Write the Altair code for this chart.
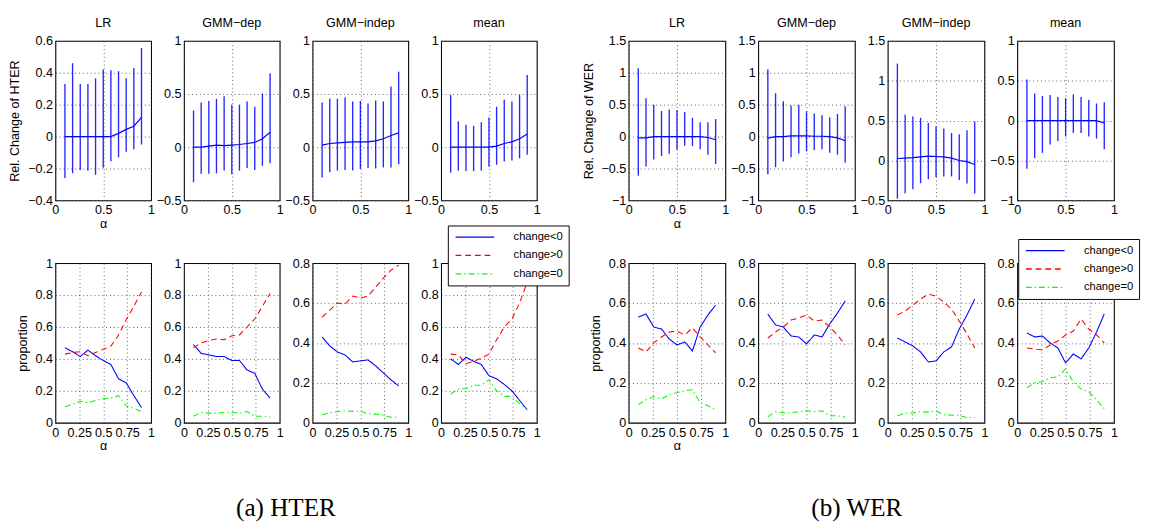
import altair as alt
import pandas as pd

ALPHA = [0.1, 0.18, 0.26, 0.34, 0.42, 0.5, 0.58, 0.66, 0.74, 0.82, 0.9]
METHODS = ["LR", "GMM−dep", "GMM−indep", "mean"]
SERIES = ["change<0", "change>0", "change=0"]
SERIES_COLORS = ["#0000ff", "#ff0000", "#00ff00"]
SERIES_DASH = [[1, 0], [6, 4], [6, 3, 1.5, 3]]

# ---- HTER, relative change (mean, lower, upper) ----
HTER_LR_MEAN = [0, 0, 0, 0, 0, 0, 0, 0.02, 0.045, 0.065, 0.12]
HTER_LR_LO = [-0.26, -0.23, -0.21, -0.215, -0.24, -0.195, -0.155, -0.13, -0.095, -0.08, -0.05]
HTER_LR_HI = [0.33, 0.46, 0.33, 0.33, 0.365, 0.42, 0.415, 0.41, 0.365, 0.43, 0.555]
HTER_GD_MEAN = [0, 0, 0.01, 0.02, 0.015, 0.02, 0.025, 0.035, 0.045, 0.08, 0.14]
HTER_GD_LO = [-0.33, -0.25, -0.25, -0.245, -0.22, -0.255, -0.22, -0.195, -0.215, -0.175, -0.15]
HTER_GD_HI = [0.345, 0.42, 0.435, 0.455, 0.48, 0.40, 0.40, 0.43, 0.38, 0.505, 0.695]
HTER_GI_MEAN = [0.02, 0.035, 0.04, 0.045, 0.05, 0.05, 0.05, 0.06, 0.08, 0.11, 0.135]
HTER_GI_LO = [-0.285, -0.235, -0.22, -0.215, -0.22, -0.205, -0.195, -0.2, -0.19, -0.19, -0.16]
HTER_GI_HI = [0.42, 0.455, 0.455, 0.47, 0.43, 0.435, 0.41, 0.44, 0.43, 0.57, 0.71]
HTER_MN_MEAN = [0, 0, 0, 0, 0, 0, 0.01, 0.035, 0.05, 0.08, 0.125]
HTER_MN_LO = [-0.24, -0.22, -0.225, -0.225, -0.22, -0.185, -0.165, -0.135, -0.125, -0.105, -0.07]
HTER_MN_HI = [0.49, 0.245, 0.21, 0.2, 0.235, 0.28, 0.38, 0.445, 0.43, 0.49, 0.68]

# ---- WER, relative change ----
WER_LR_MEAN = [-0.02, -0.02, 0, 0, 0, 0, 0, 0, 0, -0.015, -0.05]
WER_LR_LO = [-0.615, -0.47, -0.36, -0.305, -0.27, -0.205, -0.145, -0.15, -0.2, -0.285, -0.43]
WER_LR_HI = [1.07, 0.6, 0.5, 0.4, 0.425, 0.415, 0.385, 0.295, 0.225, 0.225, 0.275]
WER_GD_MEAN = [-0.025, 0, 0, 0.01, 0.01, 0.01, 0.005, 0.005, 0, -0.02, -0.065]
WER_GD_LO = [-0.59, -0.48, -0.39, -0.325, -0.265, -0.23, -0.21, -0.2, -0.255, -0.285, -0.41]
WER_GD_HI = [1.055, 0.68, 0.555, 0.485, 0.5, 0.395, 0.36, 0.335, 0.3, 0.355, 0.475]
WER_GI_MEAN = [0.025, 0.03, 0.035, 0.045, 0.055, 0.05, 0.045, 0.03, 0, -0.015, -0.05]
WER_GI_LO = [-0.48, -0.41, -0.36, -0.285, -0.235, -0.21, -0.2, -0.2, -0.245, -0.29, -0.415]
WER_GI_HI = [1.215, 0.575, 0.55, 0.535, 0.47, 0.43, 0.4, 0.345, 0.33, 0.38, 0.49]
WER_MN_MEAN = [0, 0, 0, 0, 0, 0, 0, 0, 0, 0, -0.03]
WER_MN_LO = [-0.605, -0.47, -0.405, -0.3, -0.255, -0.2, -0.155, -0.155, -0.2, -0.225, -0.36]
WER_MN_HI = [0.515, 0.34, 0.31, 0.32, 0.295, 0.28, 0.33, 0.295, 0.26, 0.215, 0.23]

# ---- HTER proportions ----
HTER_LR_NEG = [0.47, 0.445, 0.415, 0.455, 0.42, 0.39, 0.365, 0.275, 0.25, 0.17, 0.095]
HTER_LR_POS = [0.43, 0.44, 0.445, 0.42, 0.44, 0.46, 0.48, 0.55, 0.645, 0.73, 0.82]
HTER_LR_ZERO = [0.1, 0.115, 0.135, 0.125, 0.14, 0.15, 0.155, 0.17, 0.105, 0.09, 0.07]
HTER_GD_NEG = [0.49, 0.435, 0.425, 0.415, 0.415, 0.39, 0.39, 0.33, 0.31, 0.21, 0.155]
HTER_GD_POS = [0.47, 0.5, 0.515, 0.525, 0.52, 0.545, 0.55, 0.6, 0.65, 0.73, 0.81]
HTER_GD_ZERO = [0.04, 0.065, 0.06, 0.06, 0.065, 0.065, 0.06, 0.07, 0.04, 0.04, 0.035]
HTER_GI_NEG = [0.43, 0.385, 0.355, 0.34, 0.305, 0.31, 0.315, 0.285, 0.25, 0.215, 0.185]
HTER_GI_POS = [0.53, 0.565, 0.6, 0.595, 0.635, 0.625, 0.635, 0.68, 0.725, 0.765, 0.79]
HTER_GI_ZERO = [0.04, 0.05, 0.055, 0.06, 0.057, 0.058, 0.045, 0.043, 0.038, 0.027, 0.027]
HTER_MN_NEG = [0.4, 0.365, 0.41, 0.385, 0.365, 0.295, 0.275, 0.24, 0.2, 0.14, 0.08]
HTER_MN_POS = [0.43, 0.425, 0.37, 0.385, 0.405, 0.43, 0.52, 0.6, 0.65, 0.75, 0.88]
HTER_MN_ZERO = [0.18, 0.21, 0.215, 0.235, 0.235, 0.27, 0.2, 0.165, 0.165, 0.12, 0.08]

# ---- WER proportions ----
WER_LR_NEG = [0.53, 0.545, 0.48, 0.47, 0.42, 0.39, 0.405, 0.36, 0.48, 0.54, 0.59]
WER_LR_POS = [0.375, 0.355, 0.4, 0.43, 0.455, 0.46, 0.44, 0.475, 0.43, 0.39, 0.35]
WER_LR_ZERO = [0.09, 0.115, 0.13, 0.12, 0.14, 0.15, 0.16, 0.165, 0.1, 0.085, 0.065]
WER_GD_NEG = [0.545, 0.49, 0.48, 0.435, 0.43, 0.395, 0.44, 0.43, 0.495, 0.55, 0.61]
WER_GD_POS = [0.425, 0.455, 0.48, 0.515, 0.525, 0.54, 0.51, 0.515, 0.48, 0.44, 0.39]
WER_GD_ZERO = [0.03, 0.055, 0.05, 0.05, 0.055, 0.06, 0.055, 0.06, 0.035, 0.035, 0.028]
WER_GI_NEG = [0.425, 0.405, 0.385, 0.355, 0.305, 0.31, 0.355, 0.38, 0.47, 0.54, 0.62]
WER_GI_POS = [0.54, 0.56, 0.59, 0.62, 0.645, 0.635, 0.605, 0.57, 0.51, 0.445, 0.375]
WER_GI_ZERO = [0.035, 0.047, 0.05, 0.055, 0.053, 0.058, 0.04, 0.038, 0.037, 0.026, 0.026]
WER_MN_NEG = [0.45, 0.43, 0.435, 0.4, 0.375, 0.3, 0.345, 0.32, 0.375, 0.455, 0.545]
WER_MN_POS = [0.375, 0.37, 0.365, 0.39, 0.41, 0.44, 0.46, 0.52, 0.47, 0.44, 0.4]
WER_MN_ZERO = [0.175, 0.2, 0.205, 0.225, 0.23, 0.27, 0.205, 0.17, 0.155, 0.115, 0.07]

H = 165
FONT = "Liberation Sans"
SERIF = "Liberation Serif"
FS = 13
BLUE = "#0000ff"
FMT = ".2~f"


def panel_title(text):
    return alt.TitleParams(text, frame="group", anchor="middle", font=FONT, fontSize=FS,
                           fontWeight="normal", offset=5, color="black")


def caption(text, dx):
    return alt.TitleParams(text, orient="bottom", frame="group", anchor="middle", dx=dx,
                           font=SERIF, fontSize=26, fontWeight="normal", offset=44, color="black")


def err_panel(title, mean, lo, hi, ydom, yvals, w, ytitle=None, xtitle=None):
    df = pd.DataFrame({"alpha": ALPHA, "mean": mean, "lo": lo, "hi": hi})
    xs = alt.Scale(domain=[0, 1], nice=False, zero=False)
    ys = alt.Scale(domain=ydom, nice=False, zero=False)
    xax = alt.Axis(values=[0, 0.5, 1], format=FMT, title=xtitle, labelOverlap=False)
    yax = alt.Axis(values=yvals, format=FMT, title=ytitle, labelOverlap=False)
    base = alt.Chart(df)
    bars = base.mark_rule(color=BLUE, strokeWidth=1.4, opacity=0.85).encode(
        x=alt.X("alpha:Q", scale=xs, axis=xax),
        y=alt.Y("lo:Q", scale=ys, axis=yax),
        y2="hi:Q",
    )
    line = base.mark_line(color=BLUE, strokeWidth=1.2).encode(
        x=alt.X("alpha:Q", scale=xs, axis=xax),
        y=alt.Y("mean:Q", scale=ys, axis=yax),
    )
    return alt.layer(bars, line).properties(width=w, height=H, title=panel_title(title))


def prop_panel(neg, pos, zero, ydom, yvals, w, ytitle=None, xtitle=None, legend=None, cap=None):
    rows = []
    for name, vals in zip(SERIES, [neg, pos, zero]):
        for a, v in zip(ALPHA, vals):
            rows.append({"alpha": a, "value": v, "series": name})
    df = pd.DataFrame(rows)
    xs = alt.Scale(domain=[0, 1], nice=False, zero=False)
    ys = alt.Scale(domain=ydom, nice=False, zero=False)
    xax = alt.Axis(values=[0, 0.25, 0.5, 0.75, 1], format=FMT, title=xtitle, labelOverlap=False)
    yax = alt.Axis(values=yvals, format=FMT, title=ytitle, labelOverlap=False)
    cscale = alt.Scale(domain=SERIES, range=SERIES_COLORS)
    dscale = alt.Scale(domain=SERIES, range=SERIES_DASH)
    if legend is None:
        color = alt.Color("series:N", scale=cscale, legend=None)
        dash = alt.StrokeDash("series:N", scale=dscale, legend=None)
    else:
        color = alt.Color("series:N", scale=cscale, legend=legend)
        dash = alt.StrokeDash("series:N", scale=dscale, legend=legend)
    ch = alt.Chart(df).mark_line(strokeWidth=1.1).encode(
        x=alt.X("alpha:Q", scale=xs, axis=xax),
        y=alt.Y("value:Q", scale=ys, axis=yax),
        color=color,
        strokeDash=dash,
        order="alpha:Q",
    )
    if cap is not None:
        return ch.properties(width=w, height=H, title=cap)
    return ch.properties(width=w, height=H)


def spacer(w):
    return alt.Chart(pd.DataFrame({"v": [0]})).mark_point(opacity=0).encode(
        x=alt.X("v:Q", axis=None), y=alt.Y("v:Q", axis=None)
    ).properties(width=w, height=H, view=alt.ViewBackground(stroke="transparent"))


def make_legend(lx, ly):
    return alt.Legend(
        title=None, orient="none", legendX=lx, legendY=ly,
        symbolType="M-4,0H4", symbolSize=100, symbolStrokeWidth=1.3,
        symbolOffset=16, labelOffset=34, columnPadding=0,
        labelFont=FONT, labelFontSize=11.5, labelColor="black",
        fillColor="white", strokeColor="black", padding=6, rowPadding=7,
    )


P6 = [0, 0.2, 0.4, 0.6, 0.8, 1]
P4 = [0, 0.2, 0.4, 0.6, 0.8]
YA = [-0.5, 0, 0.5, 1]
YW = [-1, -0.5, 0, 0.5, 1, 1.5]
ALPHA_T = "α"
WL, WR = 99, 100
GAP = 27

panels = [
    # row 1
    err_panel(METHODS[0], HTER_LR_MEAN, HTER_LR_LO, HTER_LR_HI, [-0.4, 0.6], [-0.4, -0.2, 0, 0.2, 0.4, 0.6], WL,
              ytitle="Rel. Change of HTER", xtitle=ALPHA_T),
    err_panel(METHODS[1], HTER_GD_MEAN, HTER_GD_LO, HTER_GD_HI, [-0.5, 1], YA, WL),
    err_panel(METHODS[2], HTER_GI_MEAN, HTER_GI_LO, HTER_GI_HI, [-0.5, 1], YA, WL),
    err_panel(METHODS[3], HTER_MN_MEAN, HTER_MN_LO, HTER_MN_HI, [-0.5, 1], YA, WL),
    spacer(GAP),
    err_panel(METHODS[0], WER_LR_MEAN, WER_LR_LO, WER_LR_HI, [-1, 1.5], YW, WR,
              ytitle="Rel. Change of WER", xtitle=ALPHA_T),
    err_panel(METHODS[1], WER_GD_MEAN, WER_GD_LO, WER_GD_HI, [-1, 1.5], YW, WR),
    err_panel(METHODS[2], WER_GI_MEAN, WER_GI_LO, WER_GI_HI, [-0.5, 1.5], [-0.5, 0, 0.5, 1, 1.5], WR),
    err_panel(METHODS[3], WER_MN_MEAN, WER_MN_LO, WER_MN_HI, [-1, 1], [-1, -0.5, 0, 0.5, 1], WR),
    # row 2
    prop_panel(HTER_LR_NEG, HTER_LR_POS, HTER_LR_ZERO, [0, 1], P6, WL, ytitle="proportion", xtitle=ALPHA_T,
               cap=caption("(a) HTER", 189)),
    prop_panel(HTER_GD_NEG, HTER_GD_POS, HTER_GD_ZERO, [0, 1], P6, WL),
    prop_panel(HTER_GI_NEG, HTER_GI_POS, HTER_GI_ZERO, [0, 0.8], P4, WL),
    prop_panel(HTER_MN_NEG, HTER_MN_POS, HTER_MN_ZERO, [0, 1], P6, WL, legend=make_legend(7, -39)),
    spacer(GAP),
    prop_panel(WER_LR_NEG, WER_LR_POS, WER_LR_ZERO, [0, 0.8], P4, WR, ytitle="proportion", xtitle=ALPHA_T,
               cap=caption("(b) WER", 186)),
    prop_panel(WER_GD_NEG, WER_GD_POS, WER_GD_ZERO, [0, 0.8], P4, WR),
    prop_panel(WER_GI_NEG, WER_GI_POS, WER_GI_ZERO, [0, 0.8], P4, WR),
    prop_panel(WER_MN_NEG, WER_MN_POS, WER_MN_ZERO, [0, 0.8], P4, WR, legend=make_legend(1, -25)),
]

chart = alt.concat(
    *panels, columns=9, spacing={"row": 65, "column": 34}, bounds="flush"
).resolve_scale(
    color="independent", strokeDash="independent"
).resolve_legend(
    color="independent", strokeDash="independent"
).properties(
    padding={"left": 0, "top": 0, "right": 0, "bottom": 0},
    background="white",
).configure_view(
    stroke="black", strokeWidth=1.1,
).configure_axis(
    labelFont=FONT, labelFontSize=FS, labelColor="black", labelFlush=False,
    ticks=False, domain=False,
    grid=True, gridColor="#333333", gridDash=[1, 3], gridWidth=0.8,
    titleFont=FONT, titleFontSize=FS, titleFontWeight="normal", titleColor="black",
).configure_axisX(
    labelPadding=4, titlePadding=1,
).configure_axisY(
    labelPadding=3, titlePadding=6,
).configure_legend(
    labelFont=FONT,
)

chart.save("out.html", embed_options={"renderer": "svg", "actions": False})
